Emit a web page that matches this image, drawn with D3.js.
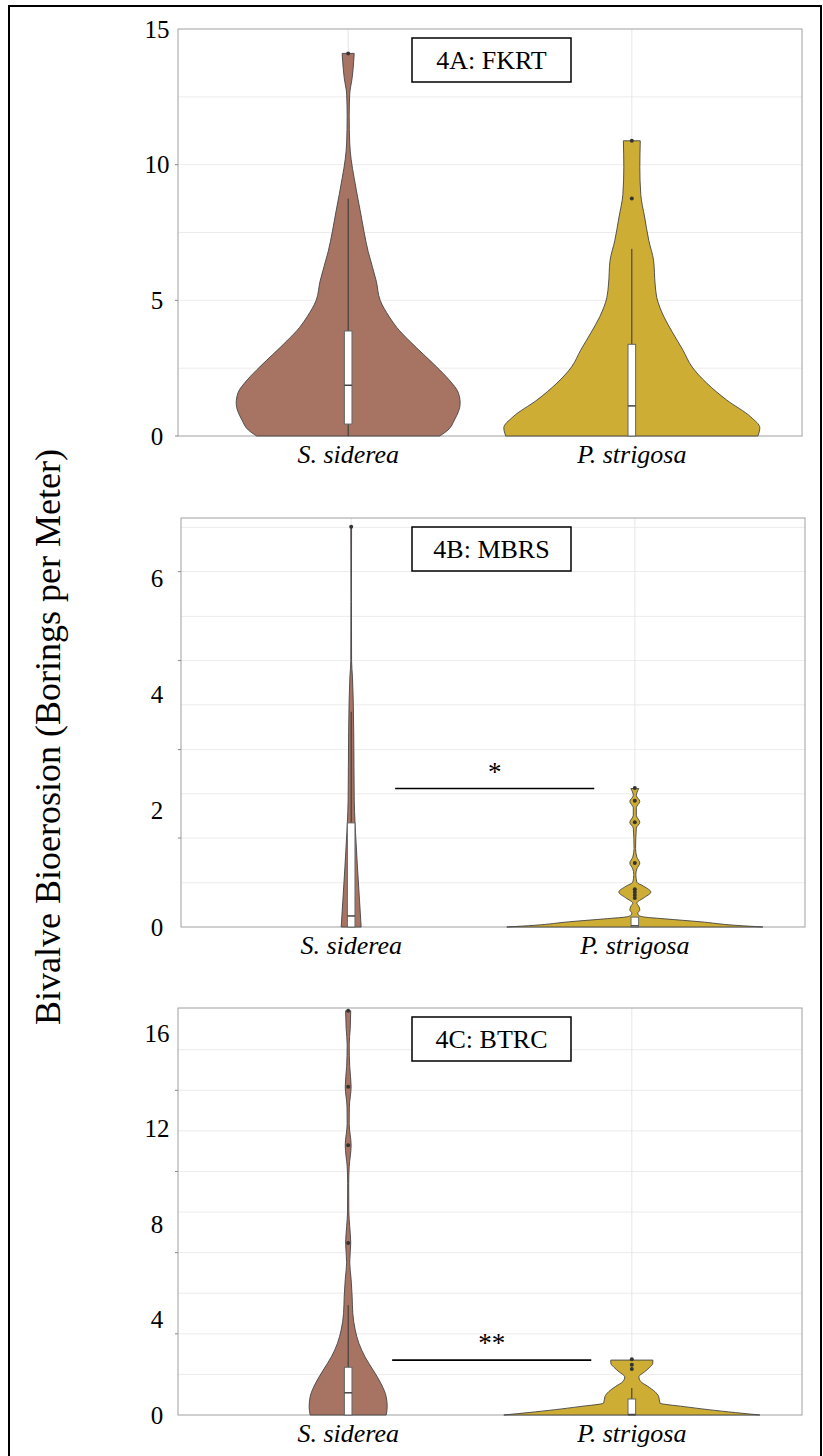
<!DOCTYPE html>
<html>
<head>
<meta charset="utf-8">
<script src="https://cdn.jsdelivr.net/npm/d3@7"></script>
<style>
body{margin:0;background:#fff;}
text{font-family:"Liberation Serif","Times New Roman",serif;fill:#000;}
</style>
</head>
<body>
<div id="app"></div>
<script>
const species = ["S. siderea", "P. strigosa"];
const panelLabels = ["4A: FKRT", "4B: MBRS", "4C: BTRC"];
const yTitle = "Bivalve Bioerosion (Borings per Meter)";

// tick labels
const ticksA = [0, 5, 10, 15];
const ticksB = [0, 2, 4, 6];
const ticksC = [0, 4, 8, 12, 16];
// grid lines and small tick marks
const gridA = [2.5, 5, 7.5, 10, 12.5];
const gridB = [0.76, 1.53, 2.29, 3.05, 3.82, 4.58, 5.34, 6.11, 6.87];
const gridC = [1.7, 3.4, 5.1, 6.8, 8.5, 10.2, 11.9, 13.6, 15.3];
const marksA = [0, 5, 10];
const marksB = [1.53, 3.05, 4.58, 6.11];
const marksC = [3.4, 6.8, 10.2, 13.6];

// violin outlines: [value, relative half width]
const violinA_sid = [[0,.715],[0.22,.78],[0.59,.83],[1.2,.875],[1.6,.86],[2.06,.79],[2.55,.69],[3.0,.59],[3.5,.48],[4.0,.38],[4.4,.32],[5.0,.25],[5.7,.22],[6.8,.156],[8.3,.094],[9.5,.047],[10.2,.023],[10.8,.012],[11.8,.008],[12.6,.012],[13.2,.031],[13.8,.043],[14.1,.047]];
const violinA_str = [[0,.985],[0.3,1.0],[0.7,.93],[1.33,.74],[1.95,.585],[2.55,.47],[3.16,.40],[3.8,.32],[4.4,.25],[5.1,.195],[5.6,.182],[6.47,.17],[7.2,.133],[8.07,.10],[8.9,.07],[9.9,.0625],[10.88,.066]];
const violinB_sid = [[0,.078],[0.46,.065],[1.03,.049],[1.62,.034],[1.79,.03],[2.18,.024],[3.34,.02],[3.9,.016],[4.3,.01],[4.58,.003],[5.6,.002],[6.88,.003]];
const violinB_str = [[0,1.0],[0.03,.78],[0.09,.51],[0.14,.234],[0.17,.078],[0.2,.031],[0.24,.023],[0.29,.039],[0.36,.03],[0.41,.016],[0.5,.07],[0.6,.125],[0.7,.07],[0.77,.016],[0.9,.008],[1.0,.016],[1.1,.039],[1.2,.016],[1.35,.006],[1.7,.012],[1.8,.039],[1.92,.012],[2.05,.012],[2.16,.039],[2.26,.012],[2.38,.031]];
const violinC_sid = [[0,.297],[0.35,.305],[0.77,.297],[1.3,.258],[1.88,.195],[2.44,.131],[3.0,.084],[3.56,.055],[4.26,.036],[4.97,.031],[5.68,.023],[6.4,.012],[7.2,.02],[7.9,.012],[8.5,.005],[9.7,.004],[10.4,.008],[11.3,.023],[12.2,.008],[12.9,.009],[13.75,.023],[14.6,.012],[15.5,.008],[16.2,.016],[16.93,.02]];
const violinC_str = [[0,1.0],[0.1,.81],[0.35,.41],[0.5,.22],[0.77,.21],[0.98,.18],[1.2,.125],[1.4,.07],[1.6,.055],[1.8,.098],[2.0,.14],[2.17,.164],[2.3,.164]];

// box stats: [q1, median, q3, lower whisker, upper whisker]
const boxA = [[0.44, 1.87, 3.87, 0, 8.75], [0, 1.11, 3.38, 0, 6.9]];
const boxB = [[0, 0.19, 1.79, 0, 3.7], [0, 0.02, 0.17, 0, 0.17]];
const boxC = [[0, 0.93, 2.0, 0, 4.6], [0, 0.02, 0.67, 0, 1.13]];
// outliers
const outA = [[14.1], [8.75, 10.88]];
const outB = [[6.88], [0.5, 0.55, 0.6, 0.65, 1.1, 1.8, 2.17, 2.39]];
const outC = [[7.2, 11.3, 13.75, 16.93], [1.93, 2.1, 2.34]];

// significance bars: [panel, level, stars]
const sigBars = [[1, 2.38, "*"], [2, 2.3, "**"]];

const colors = ["#a77463", "#cead34"];

const panels = [
  {label: panelLabels[0], ticks: ticksA, grid: gridA, marks: marksA, violins: [violinA_sid, violinA_str], box: boxA, out: outA,
   left: 178, right: 802, top: 29, bottom: 436, yMax: 15, yMaxPos: 29},
  {label: panelLabels[1], ticks: ticksB, grid: gridB, marks: marksB, violins: [violinB_sid, violinB_str], box: boxB, out: outB,
   left: 181, right: 805, top: 518, bottom: 927, yMax: 6, yMaxPos: 578},
  {label: panelLabels[2], ticks: ticksC, grid: gridC, marks: marksC, violins: [violinC_sid, violinC_str], box: boxC, out: outC,
   left: 178, right: 802, top: 1008, bottom: 1415, yMax: 16, yMaxPos: 1033}
];

const svg = d3.select("#app").append("svg")
  .attr("width", 823)
  .attr("height", 1456)
  .style("background-color", "#fff");

// outer frame
svg.append("rect")
  .attr("x", 9).attr("y", 6)
  .attr("width", 812).attr("height", 1480)
  .attr("fill", "none")
  .attr("stroke", "#000")
  .attr("stroke-width", 2);

svg.append("text")
  .attr("transform", "translate(60,737) rotate(-90)")
  .style("text-anchor", "middle")
  .style("font-size", "36px")
  .text(yTitle);

const widthScale = d3.scaleLinear().domain([0, 1]).range([0, 128]);

panels.forEach((p, pi) => {
  const g = svg.append("g");
  const y = d3.scaleLinear().domain([0, p.yMax]).range([p.bottom, p.yMaxPos]);
  const x = d3.scalePoint().domain(species).range([p.left, p.right]).padding(0.6);
  const xi = d3.scaleLinear().domain([0, 1]).range([x(species[0]), x(species[1])]);

  // grid
  g.selectAll(".grid").data(p.grid).enter().append("line")
    .attr("x1", p.left).attr("x2", p.right)
    .attr("y1", d => y(d)).attr("y2", d => y(d))
    .attr("stroke", "#ececec").attr("stroke-width", 1);
  g.selectAll(".vgrid").data(species).enter().append("line")
    .attr("x1", d => x(d)).attr("x2", d => x(d))
    .attr("y1", p.top).attr("y2", p.bottom)
    .attr("stroke", "#e6e6e6").attr("stroke-width", 1);

  // frame
  g.append("rect")
    .attr("x", p.left).attr("y", p.top)
    .attr("width", p.right - p.left).attr("height", p.bottom - p.top)
    .attr("fill", "none").attr("stroke", "#a0a0a0").attr("stroke-width", 1);

  g.selectAll(".mark").data(p.marks).enter().append("line")
    .attr("x1", p.left - 3).attr("x2", p.left)
    .attr("y1", d => y(d)).attr("y2", d => y(d))
    .attr("stroke", "#888");

  // tick labels
  g.selectAll(".tl").data(p.ticks).enter().append("text")
    .attr("x", 157)
    .attr("y", d => y(d))
    .attr("dy", "0.34em")
    .style("text-anchor", "middle")
    .style("font-size", "25px")
    .text(d => d);

  // category labels
  g.selectAll(".cl").data(species).enter().append("text")
    .attr("x", d => x(d))
    .attr("y", p.bottom + 27)
    .style("text-anchor", "middle")
    .style("font-size", "26px")
    .style("font-style", "italic")
    .text(d => d);

  // violins
  species.forEach((s, si) => {
    const cx = x(s);
    const area = d3.area()
      .y(d => y(d[0]))
      .x0(d => cx - widthScale(d[1]))
      .x1(d => cx + widthScale(d[1]))
      .curve(d3.curveMonotoneY);
    g.append("path")
      .datum(p.violins[si])
      .attr("d", area)
      .attr("fill", colors[si])
      .attr("stroke", "#444")
      .attr("stroke-width", 0.9);

    const b = p.box[si];
    g.append("line")
      .attr("x1", cx).attr("x2", cx)
      .attr("y1", y(b[2])).attr("y2", y(b[4]))
      .attr("stroke", "#333").attr("stroke-width", 1);
    g.append("line")
      .attr("x1", cx).attr("x2", cx)
      .attr("y1", y(b[0])).attr("y2", y(b[3]))
      .attr("stroke", "#333").attr("stroke-width", 1);
    g.append("rect")
      .attr("x", cx - 3.8).attr("width", 7.6)
      .attr("y", y(b[2])).attr("height", Math.max(0, y(b[0]) - y(b[2])))
      .attr("fill", "#fff").attr("stroke", "#666").attr("stroke-width", 1);
    g.append("line")
      .attr("x1", cx - 3.8).attr("x2", cx + 3.8)
      .attr("y1", y(b[1])).attr("y2", y(b[1]))
      .attr("stroke", "#444").attr("stroke-width", 1.5);

    g.selectAll(".dot" + si).data(p.out[si]).enter().append("circle")
      .attr("cx", cx).attr("cy", d => y(d))
      .attr("r", 2)
      .attr("fill", "#333");
  });

  // panel label box
  g.append("rect")
    .attr("x", 412).attr("y", p.top + 9)
    .attr("width", 159).attr("height", 44)
    .attr("fill", "#fff").attr("stroke", "#000").attr("stroke-width", 1.5);
  g.append("text")
    .attr("x", 491.5).attr("y", p.top + 31)
    .attr("dy", "0.35em")
    .style("text-anchor", "middle")
    .style("font-size", "26px")
    .text(p.label);

  // significance bar
  sigBars.filter(d => d[0] === pi).forEach(d => {
    g.append("line")
      .attr("x1", xi(0.155)).attr("x2", xi(0.857))
      .attr("y1", y(d[1])).attr("y2", y(d[1]))
      .attr("stroke", "#000").attr("stroke-width", 1.6);
    g.append("text")
      .attr("x", xi(0.506)).attr("y", y(d[1]) - 8)
      .style("text-anchor", "middle")
      .style("font-size", "27px")
      .text(d[2]);
  });
});
</script>
</body>
</html>
